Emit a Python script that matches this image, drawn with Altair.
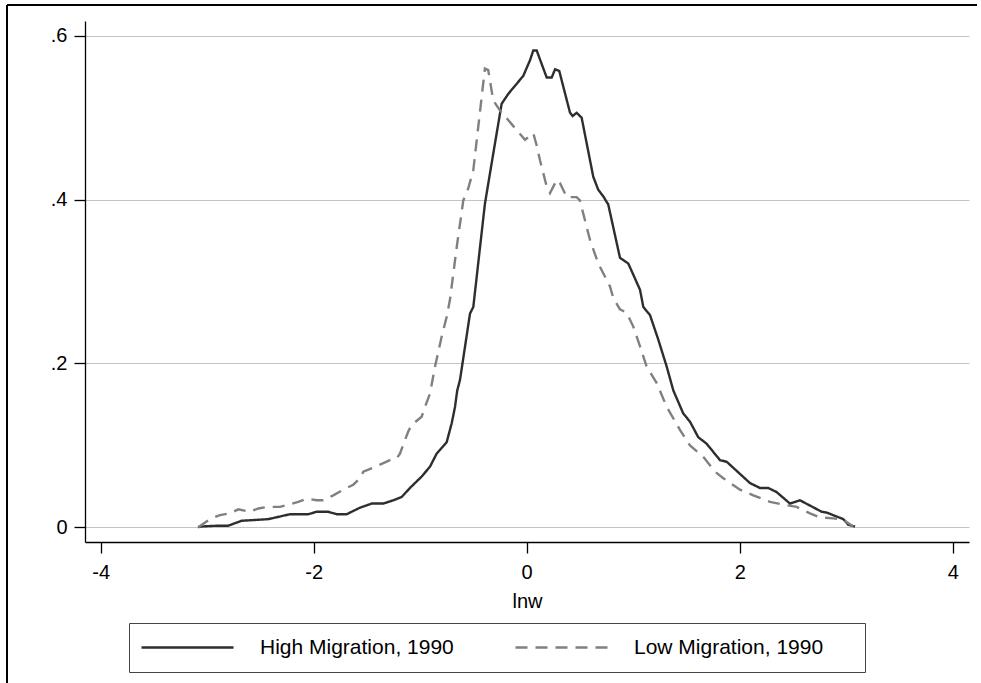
import altair as alt
import pandas as pd

# ---- data (kernel density of lnw) ----
series_names = ["High Migration, 1990", "Low Migration, 1990"]

high_lnw = [-3.085, -3.066, -2.900, -2.802, -2.676, -2.426, -2.222, -2.051, -1.972, -1.863,
            -1.784, -1.690, -1.565, -1.455, -1.346, -1.253, -1.174, -1.096, -0.986, -0.908,
            -0.845, -0.751, -0.704, -0.673, -0.652, -0.626, -0.532, -0.501, -0.438, -0.392,
            -0.314, -0.235, -0.173, -0.032, 0.031, 0.062, 0.094, 0.188, 0.235, 0.266,
            0.306, 0.407, 0.432, 0.469, 0.516, 0.625, 0.672, 0.719, 0.766, 0.876,
            0.954, 1.064, 1.095, 1.158, 1.236, 1.315, 1.377, 1.470, 1.533, 1.611,
            1.690, 1.815, 1.878, 2.097, 2.191, 2.269, 2.347, 2.472, 2.566, 2.770,
            2.817, 2.973, 3.020, 3.083]
high_density = [0.000, 0.001, 0.002, 0.002, 0.008, 0.010, 0.016, 0.016, 0.019, 0.019,
                0.016, 0.016, 0.024, 0.029, 0.029, 0.033, 0.037, 0.048, 0.062, 0.074,
                0.090, 0.104, 0.127, 0.147, 0.167, 0.180, 0.261, 0.269, 0.342, 0.395,
                0.456, 0.517, 0.529, 0.551, 0.570, 0.582, 0.582, 0.549, 0.549, 0.559,
                0.557, 0.506, 0.502, 0.506, 0.500, 0.428, 0.412, 0.404, 0.394, 0.329,
                0.322, 0.290, 0.269, 0.259, 0.229, 0.196, 0.167, 0.139, 0.129, 0.110,
                0.102, 0.082, 0.080, 0.054, 0.048, 0.048, 0.043, 0.029, 0.033, 0.019,
                0.018, 0.010, 0.003, 0.001]

low_lnw = [-3.084, -2.974, -2.880, -2.786, -2.708, -2.598, -2.520, -2.426, -2.316, -2.145,
           -2.066, -1.972, -1.910, -1.816, -1.722, -1.628, -1.565, -1.534, -1.440, -1.284,
           -1.221, -1.190, -1.112, -1.080, -0.986, -0.955, -0.908, -0.861, -0.798, -0.751,
           -0.720, -0.657, -0.595, -0.548, -0.501, -0.392, -0.361, -0.314, -0.251, -0.016,
           0.062, 0.094, 0.125, 0.188, 0.219, 0.282, 0.313, 0.376, 0.469, 0.500,
           0.531, 0.594, 0.672, 0.782, 0.813, 0.876, 0.939, 1.001, 1.064, 1.127,
           1.221, 1.315, 1.439, 1.533, 1.658, 1.768, 1.846, 2.003, 2.128, 2.285,
           2.441, 2.535, 2.660, 2.754, 2.879, 2.973, 3.067]
low_density = [0.000, 0.010, 0.015, 0.017, 0.022, 0.019, 0.023, 0.025, 0.025, 0.031,
               0.035, 0.033, 0.033, 0.039, 0.046, 0.052, 0.060, 0.068, 0.073, 0.082,
               0.084, 0.090, 0.117, 0.125, 0.135, 0.147, 0.163, 0.196, 0.233, 0.257,
               0.278, 0.342, 0.399, 0.414, 0.436, 0.560, 0.558, 0.521, 0.509, 0.473,
               0.481, 0.466, 0.448, 0.416, 0.408, 0.424, 0.420, 0.403, 0.403, 0.399,
               0.383, 0.351, 0.322, 0.294, 0.280, 0.266, 0.262, 0.245, 0.221, 0.196,
               0.176, 0.147, 0.119, 0.100, 0.086, 0.068, 0.060, 0.046, 0.039, 0.031,
               0.027, 0.025, 0.017, 0.012, 0.011, 0.009, 0.001]

x_ticks = [-4, -2, 0, 2, 4]
y_ticks = [0, 0.2, 0.4, 0.6]

df = pd.concat([
    pd.DataFrame({"lnw": high_lnw, "density": high_density,
                  "series": series_names[0], "order": list(range(len(high_lnw)))}),
    pd.DataFrame({"lnw": low_lnw, "density": low_density,
                  "series": series_names[1], "order": list(range(len(low_lnw)))}),
], ignore_index=True)

FONT = "Liberation Sans"
PAD = "\u2800" * 2  # blank filler so the legend box reaches the reference's width

legend = alt.Legend(
    title=None, orient="none", legendX=44, legendY=602,
    direction="horizontal", columns=2, symbolType="stroke",
    symbolSize=8464, symbolStrokeWidth=2.4, clipHeight=27,
    labelFontSize=21, labelFont=FONT, labelColor="#000000", labelLimit=500,
    labelOffset=25, columnPadding=60, padding=11,
    strokeColor="#444444", fillColor="#ffffff",
    labelExpr="datum.label == '" + series_names[1] + "' ? datum.label + '" + PAD + "' : datum.label",
)

lines = alt.Chart(df).mark_line(strokeWidth=2.4).encode(
    x=alt.X("lnw:Q",
            scale=alt.Scale(domain=[-4.147, 4.153], nice=False, zero=False),
            axis=alt.Axis(values=x_ticks, title="lnw", grid=False,
                          tickSize=11, labelPadding=9,
                          labelExpr="'' + datum.value",
                          titleX=442, titleY=65, titleBaseline="alphabetic",
                          titleAlign="center")),
    y=alt.Y("density:Q",
            scale=alt.Scale(domain=[-0.0179, 0.618], nice=False, zero=False),
            axis=alt.Axis(values=y_ticks, title=None, grid=True,
                          gridColor="#c4c4c4", gridWidth=1.2,
                          tickSize=11, labelPadding=7,
                          labelExpr="datum.value == 0 ? '0' : '.' + round(datum.value * 10)")),
    color=alt.Color("series:N",
                    scale=alt.Scale(domain=series_names, range=["#2e2e2e", "#808080"]),
                    legend=legend),
    strokeDash=alt.StrokeDash("series:N",
                              scale=alt.Scale(domain=series_names, range=[[1, 0], [12, 8]]),
                              legend=legend),
    order="order:Q",
)

frame_top = alt.Chart(df).mark_rule(color="#000000", strokeWidth=1.3).encode(
    x=alt.value(-78), x2=alt.value(892), y=alt.value(-16))
frame_left = alt.Chart(df).mark_rule(color="#000000", strokeWidth=1.3).encode(
    x=alt.value(-78), y=alt.value(-16), y2=alt.value(662))

chart = alt.layer(lines, frame_top, frame_left).properties(
    width=884, height=521,
    autosize=alt.AutoSizeParams(type="none"),
    padding={"left": 85, "top": 21, "right": 12, "bottom": 141},
    background="#ffffff",
).configure_view(stroke=None).configure_axis(
    labelFont=FONT, titleFont=FONT, labelFontSize=20, titleFontSize=20,
    titleFontWeight="normal", labelColor="#000000", titleColor="#000000",
    domainColor="#000000", domainWidth=1.3, tickColor="#000000", tickWidth=1.3,
)

chart.save("out.html", embed_options={"renderer": "svg", "actions": False})
